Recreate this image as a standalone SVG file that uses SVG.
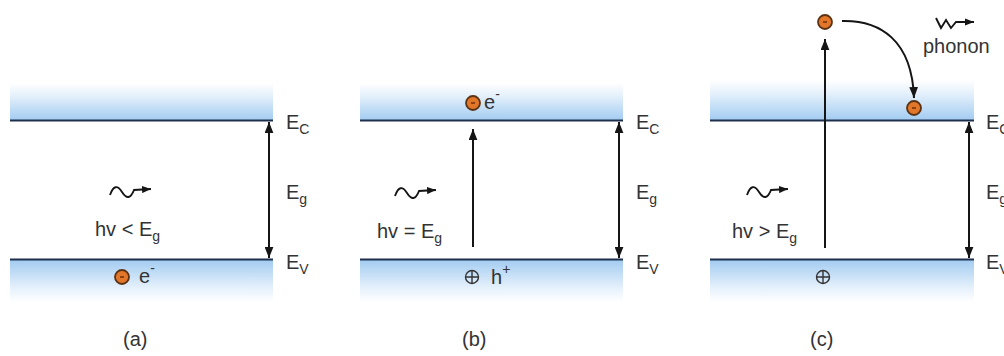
<svg xmlns="http://www.w3.org/2000/svg" width="1004" height="356" viewBox="0 0 1004 356">
<style>
text{font-family:"Liberation Sans",Arial,sans-serif;fill:#333333;font-size:20px}
.sub{font-size:14px}
.band{stroke:none}
.lvl{stroke:#1f2f4e;stroke-width:2.2;fill:none}
.arr{stroke:#151515;stroke-width:2;fill:none}
.wave{stroke:#151515;stroke-width:1.9;fill:none}
.el{fill:#e2772a;stroke:#5b3213;stroke-width:1.8}
.minus{stroke:#6a2a08;stroke-width:1.4}
.hole{fill:none;stroke:#333;stroke-width:1.4}
</style>
<defs>
<linearGradient id="gUp" x1="0" y1="0" x2="0" y2="1">
<stop offset="0" stop-color="#ffffff"/>
<stop offset="0.35" stop-color="#e4f0fb"/>
<stop offset="1" stop-color="#a3ccf1"/>
</linearGradient>
<linearGradient id="gDn" x1="0" y1="0" x2="0" y2="1">
<stop offset="0" stop-color="#a3ccf1"/>
<stop offset="0.65" stop-color="#e4f0fb"/>
<stop offset="1" stop-color="#ffffff"/>
</linearGradient>
<marker id="ah" viewBox="0 0 10 8" refX="10" refY="4" markerWidth="11" markerHeight="9" markerUnits="userSpaceOnUse" orient="auto-start-reverse">
<path d="M0,0 L10,4 L0,8 z" fill="#151515"/>
</marker>
<marker id="ahs" viewBox="0 0 10 8" refX="10" refY="4" markerWidth="9" markerHeight="7.2" markerUnits="userSpaceOnUse" orient="auto">
<path d="M0,0 L10,4 L0,8 z" fill="#151515"/>
</marker>
</defs>

<!-- Panel (a) -->
<g id="panel-a">
<rect class="band" x="10" y="83" width="263" height="37" fill="url(#gUp)"/>
<rect class="band" x="10" y="260" width="263" height="42" fill="url(#gDn)"/>
<line class="lvl" x1="10" y1="120.5" x2="273" y2="120.5"/>
<line class="lvl" x1="10" y1="259.5" x2="273" y2="259.5"/>
<text x="286" y="129">E<tspan class="sub" dy="5">C</tspan></text>
<text x="286" y="199">E<tspan class="sub" dy="5">g</tspan></text>
<text x="286" y="269">E<tspan class="sub" dy="5">V</tspan></text>
<text x="95" y="236">hv &lt; E<tspan class="sub" dy="5">g</tspan></text>
<text x="123" y="346">(a)</text>
</g>
<g id="electron-a">
<circle class="el" cx="122" cy="277" r="7"/>
<line class="minus" x1="120" y1="277" x2="124" y2="277"/>
<text x="139" y="283">e<tspan class="sub" dy="-10">-</tspan></text>
</g>

<!-- Panel (b) -->
<g id="panel-b">
<rect class="band" x="360" y="83" width="263" height="37" fill="url(#gUp)"/>
<rect class="band" x="360" y="260" width="263" height="42" fill="url(#gDn)"/>
<line class="lvl" x1="360" y1="120.5" x2="623" y2="120.5"/>
<line class="lvl" x1="360" y1="259.5" x2="623" y2="259.5"/>
<text x="636" y="129">E<tspan class="sub" dy="5">C</tspan></text>
<text x="636" y="199">E<tspan class="sub" dy="5">g</tspan></text>
<text x="636" y="269">E<tspan class="sub" dy="5">V</tspan></text>
<text x="377" y="238">hv = E<tspan class="sub" dy="5">g</tspan></text>
<text x="462" y="346">(b)</text>
</g>
<g id="electron-b">
<circle class="el" cx="473" cy="103" r="7"/>
<line class="minus" x1="471" y1="103" x2="475" y2="103"/>
<text x="484" y="109">e<tspan class="sub" dy="-10">-</tspan></text>
</g>
<g id="hole-b">
<circle class="hole" cx="472" cy="277" r="6.5"/>
<path class="hole" d="M465.5,277 H478.5 M472,270.5 V283.5"/>
<text x="491" y="284">h<tspan class="sub" dy="-10">+</tspan></text>
</g>

<!-- Panel (c) -->
<g id="panel-c">
<rect class="band" x="710" y="80" width="264" height="40" fill="url(#gUp)"/>
<rect class="band" x="710" y="260" width="264" height="42" fill="url(#gDn)"/>
<line class="lvl" x1="710" y1="120.5" x2="974" y2="120.5"/>
<line class="lvl" x1="710" y1="259.5" x2="974" y2="259.5"/>
<text x="986" y="129">E<tspan class="sub" dy="5">C</tspan></text>
<text x="986" y="199">E<tspan class="sub" dy="5">g</tspan></text>
<text x="986" y="269">E<tspan class="sub" dy="5">V</tspan></text>
<text x="732" y="238">hv &gt; E<tspan class="sub" dy="5">g</tspan></text>
<text x="923" y="53" font-size="17">phonon</text>
<text x="810" y="346">(c)</text>
</g>
<g id="electron-c-top">
<circle class="el" cx="825" cy="22" r="7"/>
<line class="minus" x1="823" y1="22" x2="827" y2="22"/>
</g>
<g id="electron-c-low">
<circle class="el" cx="914" cy="108" r="7"/>
<line class="minus" x1="912" y1="108" x2="916" y2="108"/>
</g>
<g id="hole-c">
<circle class="hole" cx="823" cy="277" r="6.5"/>
<path class="hole" d="M816.5,277 H829.5 M823,270.5 V283.5"/>
</g>

<!-- Connectors -->
<g id="connectors">
<line class="arr" x1="269" y1="122" x2="269" y2="258" marker-start="url(#ah)" marker-end="url(#ah)"/>
<line class="arr" x1="619" y1="122" x2="619" y2="258" marker-start="url(#ah)" marker-end="url(#ah)"/>
<line class="arr" x1="969" y1="122" x2="969" y2="258" marker-start="url(#ah)" marker-end="url(#ah)"/>
<line class="arr" x1="473" y1="247" x2="473" y2="129" marker-end="url(#ah)"/>
<line class="arr" x1="825" y1="248" x2="825" y2="39" marker-end="url(#ah)"/>
<path class="arr" d="M842,21 C880,20 912,40 914,98" marker-end="url(#ah)"/>
<path class="wave" d="M110,195 Q115,181 122,192 T134,190 L151,189" marker-end="url(#ahs)"/>
<path class="wave" d="M395,196 Q400,182 407,193 T419,191 L436,190" marker-end="url(#ahs)"/>
<path class="wave" d="M747,195 Q752,181 759,192 T771,190 L788,189" marker-end="url(#ahs)"/>
<path class="wave" d="M936,18 L941,28 L946,20 L951,28 L956,22 L974,22" marker-end="url(#ahs)"/>
</g>
</svg>
